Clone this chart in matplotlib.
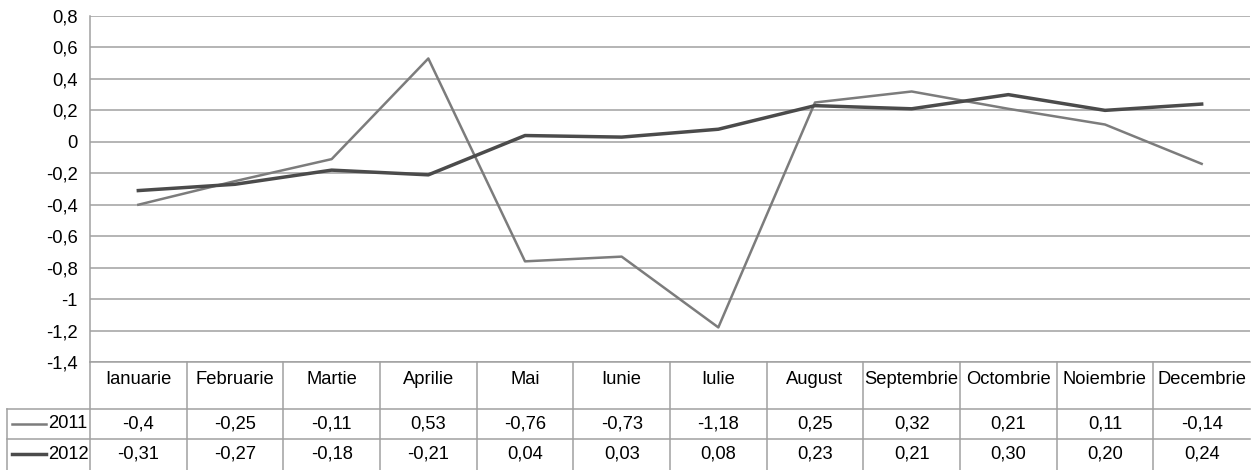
import numpy as np
import matplotlib.pyplot as plt

plt.rcParams['font.family'] = ['Liberation Sans Narrow', 'Liberation Sans', 'DejaVu Sans']

# date lunare
luni = ["Ianuarie", "Februarie", "Martie", "Aprilie", "Mai", "Iunie",
        "Iulie", "August", "Septembrie", "Octombrie", "Noiembrie", "Decembrie"]
ani = ["2011", "2012"]
val_2011 = [-0.4, -0.25, -0.11, 0.53, -0.76, -0.73, -1.18, 0.25, 0.32, 0.21, 0.11, -0.14]
val_2012 = [-0.31, -0.27, -0.18, -0.21, 0.04, 0.03, 0.08, 0.23, 0.21, 0.30, 0.20, 0.24]
yticks = [0.8, 0.6, 0.4, 0.2, 0, -0.2, -0.4, -0.6, -0.8, -1, -1.2, -1.4]

W, H = 1251, 470
grila = '#a0a0a0'
culori = ['#7c7c7c', '#4b4b4b']
grosimi = [1.8, 2.5]
fs = 13.2


def virgula(s):
    return s.replace('.', ',')


fig = plt.figure(figsize=(W / 100, H / 100), dpi=100)

# graficul
x0, x1, ytop, ybot = 90, 1250, 16, 362
ax = fig.add_axes([x0 / W, (H - ybot) / H, (x1 - x0) / W, (ybot - ytop) / H])
x = np.arange(len(luni)) + 0.5
ax.plot(x, val_2011, color=culori[0], lw=grosimi[0])
ax.plot(x, val_2012, color=culori[1], lw=grosimi[1])
ax.set_xlim(0, len(luni))
ax.set_ylim(-1.4, 0.8)
ax.set_yticks(yticks)
ax.set_yticklabels([virgula('{:g}'.format(v)) for v in yticks], fontsize=fs)
ax.set_xticks([])
ax.tick_params(axis='y', length=0, pad=9)
ax.grid(axis='y', color=grila, lw=1.1)
for s in ['top', 'right']:
    ax.spines[s].set_visible(False)
for s in ['left', 'bottom']:
    ax.spines[s].set_color(grila)
    ax.spines[s].set_linewidth(1.1)

# tabelul de date
tb = fig.add_axes([0, 0, 1, 1])
tb.set_xlim(0, W)
tb.set_ylim(H, 0)
tb.axis('off')
col_w = (x1 - x0) / len(luni)
r1, r2, r3 = 409, 439, 469.5
tb.plot([7, x1], [r1, r1], color=grila, lw=1.1)
tb.plot([7, x1], [r2, r2], color=grila, lw=1.1)
tb.plot([7, 7], [r1, r3], color=grila, lw=1.1)
for k in range(len(luni)):
    xv = x0 + k * col_w
    tb.plot([xv, xv], [ybot, r3], color=grila, lw=1.1)

rand_y = [(r1 + r2) / 2, (r2 + r3) / 2]
formate = ['{:g}', '{:.2f}']
for k, luna in enumerate(luni):
    cx = x0 + (k + 0.5) * col_w
    tb.text(cx, 380, luna, ha='center', va='center', fontsize=fs)
    for j, serie in enumerate([val_2011, val_2012]):
        tb.text(cx, rand_y[j], virgula(formate[j].format(serie[k])),
                ha='center', va='center', fontsize=fs)

for j, an in enumerate(ani):
    tb.plot([12, 46], [rand_y[j], rand_y[j]], color=culori[j], lw=grosimi[j])
    tb.text(48, rand_y[j], an, ha='left', va='center', fontsize=fs)

fig.savefig('out.png', dpi=100)
